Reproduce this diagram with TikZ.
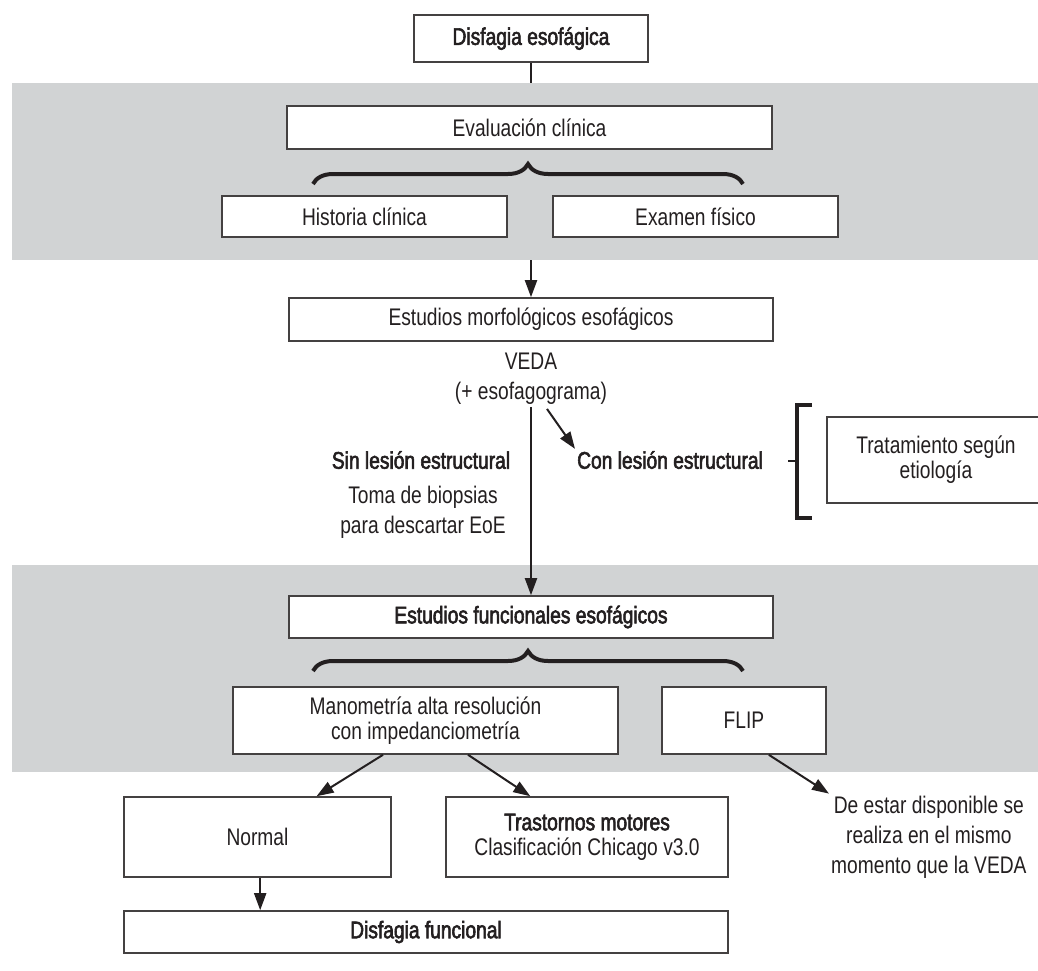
\documentclass[tikz,border=0pt]{standalone}
\usepackage{fontspec}
\setmainfont{Liberation Sans}[FakeStretch=0.8,BoldFont={Liberation Sans},BoldFeatures={FakeBold=2.4}]
\usepackage{tikz}
\usetikzlibrary{arrows.meta,calc,decorations.pathreplacing}
\definecolor{bandgray}{RGB}{209,211,212}
\definecolor{ink}{RGB}{35,31,32}
\tikzset{
  box/.style={draw=ink!85,line width=1.6pt,fill=white,align=center,inner sep=0pt,text=ink},
  band/.style={fill=bandgray,inner sep=0pt},
  note/.style={align=center,text=ink,inner sep=2pt},
  conn/.style={draw=ink,line width=2pt},
  arr/.style={conn,-{Triangle[length=17pt,width=12pt]}},
  curly/.style={draw=ink,line width=4pt,decorate,decoration={brace,amplitude=20pt}},
}
\newcommand{\flowbox}[6]{%
  \node[box,minimum width=#4pt,minimum height=#5pt] (#1) at (#2,#3) {#6};
}

\begin{document}
\begin{tikzpicture}[x=1pt,y=-1pt,font=\fontsize{24}{25}\selectfont]
   \useasboundingbox (0,0) rectangle (1038,971);
   % grey bands
   \node[band,minimum width=1033pt,minimum height=177pt] (bandA) at (528.5,171.5) {};
   \node[band,minimum width=1033pt,minimum height=207pt] (bandB) at (528.5,668.5) {};
   % boxes
   \flowbox{disf}{531}{38.5}{234}{47}{\bfseries Disfagia esofágica}
   \flowbox{evalc}{529.5}{127.5}{485}{43}{Evaluación clínica}
   \flowbox{hist}{364.5}{216.5}{285}{41}{Historia clínica}
   \flowbox{exam}{695.5}{216.5}{285}{41}{Examen físico}
   \flowbox{morf}{531}{319.5}{484}{43}{Estudios morfológicos esofágicos}
   \flowbox{trat}{936}{460}{218}{86}{Tratamiento según\\etiología}
   \flowbox{func}{531}{617}{484}{42}{\bfseries Estudios funcionales esofágicos}
   \flowbox{mano}{425.5}{720.5}{385}{67}{Manometría alta resolución\\con impedanciometría}
   \flowbox{flip}{744}{720.5}{164}{67}{FLIP}
   \flowbox{normal}{257.5}{837}{267}{80}{Normal}
   \flowbox{trast}{587}{837}{282}{80}{{\bfseries Trastornos motores}\\Clasificación Chicago v3.0}
   \flowbox{dfunc}{426}{932}{604}{42}{\bfseries Disfagia funcional}
   % free texts
   \node[note,font=\fontsize{24}{30}\selectfont] (veda) at (531,379) {VEDA\\(+ esofagograma)};
   \node[note] (sin) at (421,460) {\bfseries Sin lesión estructural};
   \node[note,font=\fontsize{24}{30}\selectfont] (toma) at (423,512) {Toma de biopsias\\para descartar EoE};
   \node[note,anchor=west] (con) at (575,460) {\bfseries Con lesión estructural};
   \node[note,anchor=west,font=\fontsize{24}{30}\selectfont] (dispo) at (829,837) {De estar disponible se\\realiza en el mismo\\momento que la VEDA};
   % braces and bracket
   \draw[curly] (313,184) -- (743,184);
   \draw[curly] (313,671) -- (743,671);
   \coordinate (brk) at (797,461);
   \draw[draw=ink,line width=4pt] (812,405) -- (brk |- 0,405) -- (brk |- 0,518) -- (812,518);
   \draw[conn] ($(brk)+(-9,0)$) -- (brk);
   % connectors
   \draw[conn] (disf.south) -- (disf.south |- bandA.north);
   \draw[arr] (morf.north |- bandA.south) -- (morf.north);
   \draw[arr] (veda.south) -- (func.north);
   \draw[arr] ($(veda.south)+(16,2)$) -- (con.north west);
   \draw[arr] ($(mano.south west)!0.39!(mano.south east)$) -- ($(normal.north west)!0.72!(normal.north east)$);
   \draw[arr] ($(mano.south west)!0.61!(mano.south east)$) -- ($(trast.north west)!0.30!(trast.north east)$);
   \draw[arr] ($(flip.south west)!0.65!(flip.south east)$) -- (dispo.north west);
   \draw[arr] ($(normal.south west)!0.51!(normal.south east)$) coordinate (nbot) -- (nbot |- dfunc.north);
\end{tikzpicture}
\end{document}
